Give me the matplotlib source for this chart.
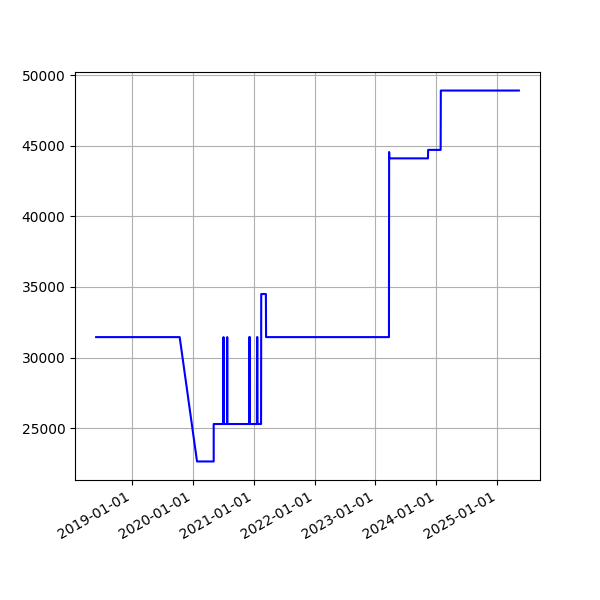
import pandas as pd
import matplotlib
matplotlib.use('Agg')
import matplotlib.pyplot as plt
import matplotlib.dates as mdates

# datas e valores
datas = [
    '2018-06-01', '2019-10-15', '2020-01-27', '2020-05-06', '2020-05-06',
    '2020-07-03', '2020-07-04', '2020-07-05',
    '2020-07-25', '2020-07-26', '2020-07-27',
    '2020-12-07', '2020-12-07', '2020-12-07',
    '2021-01-20', '2021-01-21', '2021-01-23', '2021-01-24',
    '2021-02-14', '2021-02-15', '2021-03-15', '2021-03-16',
    '2023-03-23', '2023-03-24', '2023-03-25',
    '2023-11-12', '2023-11-13', '2024-01-27', '2024-01-28', '2025-05-10',
]
valores = [
    31450, 31450, 22650, 22650, 25300,
    25300, 31450, 25300,
    25300, 31450, 25300,
    25300, 31450, 25300,
    25300, 31450, 31450, 25300,
    25300, 34500, 34500, 31450,
    31450, 44550, 44100,
    44100, 44700, 44700, 48900, 48900,
]

x = pd.to_datetime(datas)

fig, ax = plt.subplots(figsize=(6, 6), dpi=100)
ax.plot(x, valores, color='b')
ax.grid(True)
ax.xaxis.set_major_locator(mdates.YearLocator())
ax.xaxis.set_major_formatter(mdates.DateFormatter('%Y-%m-%d'))
fig.autofmt_xdate()

fig.savefig('out.png')
